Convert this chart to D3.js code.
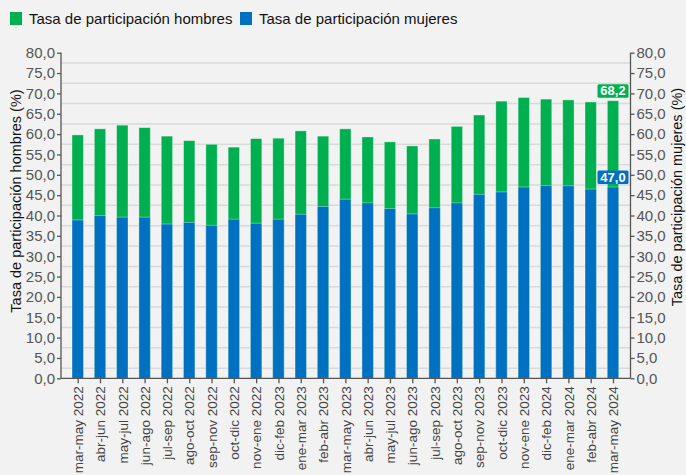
<!DOCTYPE html>
<html>
<head>
<meta charset="utf-8">
<script src="https://cdn.jsdelivr.net/npm/d3@7"></script>
<style>
  html,body{margin:0;padding:0;background:#f2f2f2;}
  svg{display:block;font-family:"Liberation Sans",Arial,sans-serif;}
  .axis text{fill:#555;font-size:15px;}
  .axis path,.axis line{stroke:#555;stroke-width:1.3;}
  .xaxis text{fill:#444;font-size:13.5px;}
</style>
</head>
<body>
<svg id="chart" width="686" height="475"></svg>
<script>
// periodos moviles trimestrales
const periods=['mar-may 2022','abr-jun 2022','may-jul 2022','jun-ago 2022','jul-sep 2022','ago-oct 2022',
  'sep-nov 2022','oct-dic 2022','nov-ene 2022','dic-feb 2023','ene-mar 2023','feb-abr 2023',
  'mar-may 2023','abr-jun 2023','may-jul 2023','jun-ago 2023','jul-sep 2023','ago-oct 2023',
  'sep-nov 2023','oct-dic 2023','nov-ene 2023','dic-feb 2024','ene-mar 2024','feb-abr 2024','mar-may 2024'];

const hombres=[59.8,61.3,62.2,61.6,59.5,58.4,57.5,56.8,58.9,59.0,60.8,59.5,
  61.3,59.3,58.1,57.1,58.8,61.9,64.7,68.1,69.0,68.6,68.4,67.9,68.2];

const mujeres=[38.9,40.0,39.6,39.6,37.9,38.3,37.6,39.1,38.1,39.1,40.3,42.2,
  44.0,43.1,41.7,40.4,41.9,43.1,45.2,45.8,47.0,47.4,47.3,46.5,47.0];

const yTicks=[0,5,10,15,20,25,30,35,40,45,50,55,60,65,70,75,80];

const colors={hombres:'#00b050',mujeres:'#0070c0'};

const dom={};
const plot={left:61,right:630.5,top:52.7,bot:378.3};

window.addEventListener('load',init);

function init(){
    dom.svg=d3.select('#chart');

    const x=d3.scalePoint().domain(periods).range([77.7,613]);
    const barW=x.step()*0.51;
    const y=d3.scaleLinear().domain([0,80]).range([plot.bot,plot.top]);
    const fmt=d=>d3.format('.1f')(d).replace('.',',');

    // gridlines sit halfway between ticks in the original
    const grid=d3.range(2.5,80,5);
    dom.svg.append('g').selectAll('line').data(grid).join('line')
        .attr('x1',plot.left).attr('x2',plot.right)
        .attr('y1',d=>y(d)).attr('y2',d=>y(d))
        .attr('stroke','#d9d9d9').attr('stroke-width',1.5);

    const bars=dom.svg.append('g');
    bars.selectAll('rect.h').data(hombres).join('rect')
        .attr('class','h')
        .attr('x',(d,i)=>x(periods[i])-barW/2).attr('width',barW)
        .attr('y',d=>y(d)).attr('height',d=>plot.bot-y(d))
        .attr('fill',colors.hombres).attr('stroke','rgba(255,255,255,0.45)').attr('stroke-width',0.8);
    bars.selectAll('rect.m').data(mujeres).join('rect')
        .attr('class','m')
        .attr('x',(d,i)=>x(periods[i])-barW/2).attr('width',barW)
        .attr('y',d=>y(d)).attr('height',d=>plot.bot-y(d))
        .attr('fill',colors.mujeres).attr('stroke','rgba(255,255,255,0.45)').attr('stroke-width',0.8);

    // axes
    const yl=dom.svg.append('g').attr('class','axis')
        .attr('transform',`translate(${plot.left},0)`)
        .call(d3.axisLeft(y).tickValues(yTicks).tickFormat(fmt).tickSize(4).tickPadding(2));
    const yr=dom.svg.append('g').attr('class','axis')
        .attr('transform',`translate(${plot.right},0)`)
        .call(d3.axisRight(y).tickValues(yTicks).tickFormat(fmt).tickSize(4).tickPadding(2));
    [yl,yr].forEach(g=>g.select('.domain').attr('d',`M0,${plot.top}V${plot.bot}`));

    const xa=dom.svg.append('g').attr('class','axis xaxis')
        .attr('transform',`translate(0,${plot.bot})`)
        .call(d3.axisBottom(x).tickSize(5).tickSizeOuter(0));
    xa.select('.domain').attr('d',`M${plot.left},0H${plot.right}`);
    xa.selectAll('text')
        .attr('transform','rotate(-90)')
        .attr('text-anchor','end')
        .attr('x',-8).attr('y',0).attr('dy','0.35em');

    // axis titles
    dom.svg.append('text')
        .attr('transform',`translate(21,201) rotate(-90)`)
        .attr('text-anchor','middle').attr('font-size','14.5px').attr('fill','#111')
        .text('Tasa de participación hombres (%)');
    dom.svg.append('text')
        .attr('transform',`translate(682,197) rotate(-90)`)
        .attr('text-anchor','middle').attr('font-size','14.5px').attr('fill','#111')
        .text('Tasa de participación mujeres (%)');

    // last value labels
    const last=periods.length-1;
    [{v:hombres[last],c:colors.hombres},{v:mujeres[last],c:colors.mujeres}].forEach(d=>{
        const cx=x(periods[last]), cy=y(d.v)-10;
        const g=dom.svg.append('g');
        g.append('rect').attr('x',cx-15.5).attr('y',cy-6.5).attr('width',31).attr('height',13.5)
            .attr('rx',1.5).attr('fill',d.c);
        g.append('text').attr('x',cx).attr('y',cy).attr('dy','0.36em')
            .attr('text-anchor','middle').attr('fill','#fff')
            .attr('font-size','13px').attr('font-weight','bold')
            .text(fmt(d.v));
    });

    // legend
    const legend=[{name:'Tasa de participación hombres',c:colors.hombres,x:10},
                  {name:'Tasa de participación mujeres',c:colors.mujeres,x:240}];
    const lg=dom.svg.append('g').selectAll('g').data(legend).join('g')
        .attr('transform',d=>`translate(${d.x},12)`);
    lg.append('rect').attr('width',12).attr('height',13).attr('fill',d=>d.c);
    lg.append('text').attr('x',19).attr('y',11.5).attr('font-size','15px').attr('fill','#111')
        .text(d=>d.name);
}
</script>
</body>
</html>
